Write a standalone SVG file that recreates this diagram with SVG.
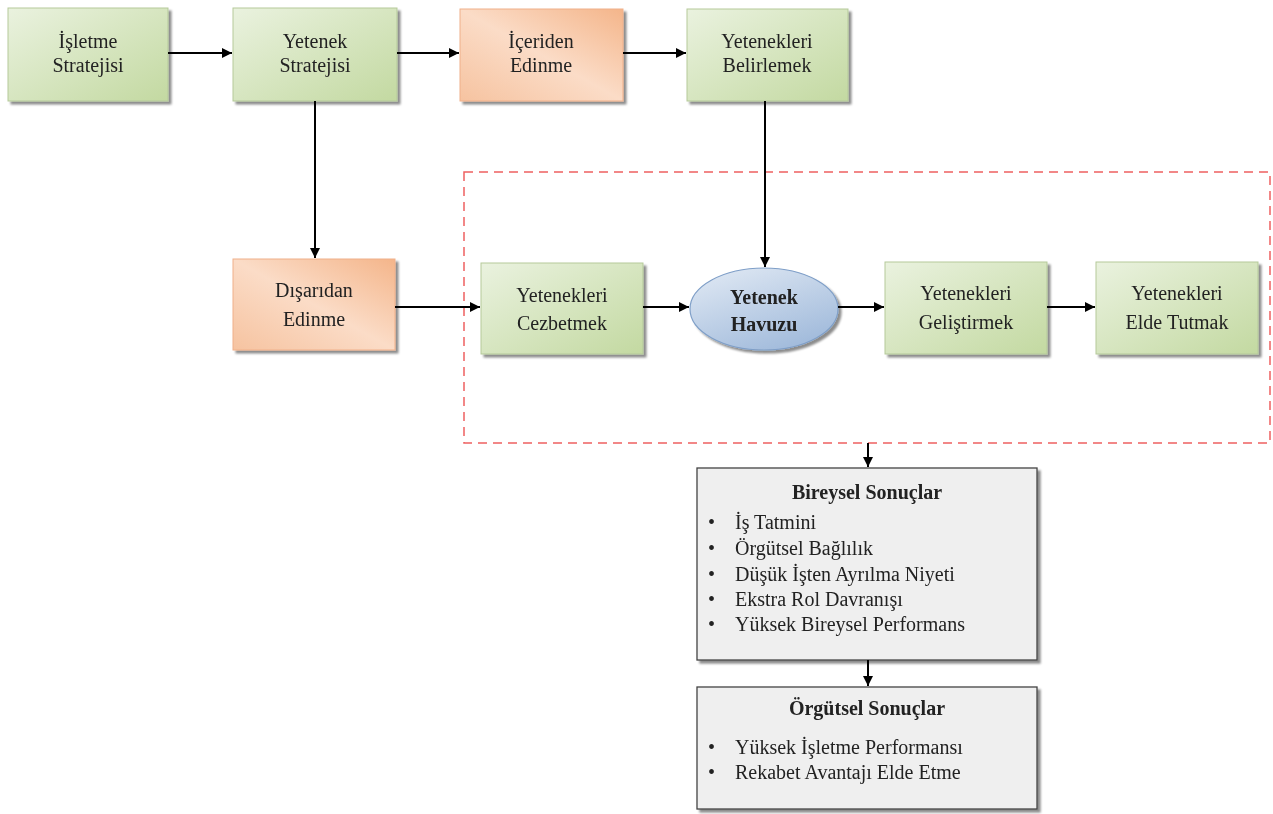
<svg xmlns="http://www.w3.org/2000/svg" width="1273" height="814" viewBox="0 0 1273 814">
<defs>
<linearGradient id="gG" x1="0" y1="0" x2="1" y2="1">
<stop offset="0" stop-color="#eaf2df"/><stop offset="1" stop-color="#c3d9a1"/>
</linearGradient>
<linearGradient id="gO" x1="1" y1="0" x2="0" y2="1">
<stop offset="0" stop-color="#f4b58a"/><stop offset="0.5" stop-color="#fbdcc7"/><stop offset="1" stop-color="#f6c3a0"/>
</linearGradient>
<linearGradient id="gB" x1="0" y1="0" x2="0.6" y2="1">
<stop offset="0" stop-color="#e3ebf5"/><stop offset="1" stop-color="#a3bcdc"/>
</linearGradient>
<marker id="ah" viewBox="0 0 10 10" refX="10" refY="5" markerWidth="6" markerHeight="5" orient="auto" markerUnits="strokeWidth">
<path d="M0,0 L10,5 L0,10 z" fill="#000"/>
</marker>
<filter id="sh" x="-10%" y="-10%" width="130%" height="130%">
<feOffset dx="3" dy="3" in="SourceAlpha" result="o"/>
<feGaussianBlur in="o" stdDeviation="1" result="b"/>
<feColorMatrix in="b" type="matrix" values="0 0 0 0 0  0 0 0 0 0  0 0 0 0 0  0 0 0 0.45 0" result="c"/>
<feMerge><feMergeNode in="c"/><feMergeNode in="SourceGraphic"/></feMerge>
</filter>
</defs>
<style>
.g{fill:url(#gG);stroke:#b5c99a;stroke-width:1}
.o{fill:url(#gO);stroke:#f0b08a;stroke-width:1}
.gr{fill:#efefef;stroke:#444;stroke-width:1.3}
.t{font-family:"Liberation Serif","Times New Roman",serif;font-size:20px;fill:#222;text-anchor:middle}
.b{font-weight:bold}
.l{font-family:"Liberation Serif","Times New Roman",serif;font-size:20px;fill:#222}
.c line,.c path{stroke:#000;stroke-width:2;fill:none;marker-end:url(#ah)}
</style>
<rect x="464" y="172" width="806" height="271" fill="none" stroke="#ee6060" stroke-width="1.5" stroke-dasharray="9,6"/>
<g id="n1" filter="url(#sh)"><rect class="g" x="8" y="8" width="160" height="93"/>
<text class="t" x="88" y="48">İşletme</text><text class="t" x="88" y="72">Stratejisi</text></g>
<g id="n2" filter="url(#sh)"><rect class="g" x="233" y="8" width="164" height="93"/>
<text class="t" x="315" y="48">Yetenek</text><text class="t" x="315" y="72">Stratejisi</text></g>
<g id="n3" filter="url(#sh)"><rect class="o" x="460" y="9" width="163" height="92"/>
<text class="t" x="541" y="48">İçeriden</text><text class="t" x="541" y="72">Edinme</text></g>
<g id="n4" filter="url(#sh)"><rect class="g" x="687" y="9" width="161" height="92"/>
<text class="t" x="767" y="48">Yetenekleri</text><text class="t" x="767" y="72">Belirlemek</text></g>
<g id="n5" filter="url(#sh)"><rect class="o" x="233" y="259" width="162" height="91"/>
<text class="t" x="314" y="297">Dışarıdan</text><text class="t" x="314" y="326">Edinme</text></g>
<g id="n6" filter="url(#sh)"><rect class="g" x="481" y="263" width="162" height="91"/>
<text class="t" x="562" y="302">Yetenekleri</text><text class="t" x="562" y="330">Cezbetmek</text></g>
<g id="n7" filter="url(#sh)"><ellipse cx="764" cy="309" rx="74" ry="41" fill="url(#gB)" stroke="#7f9fc8" stroke-width="1.2"/>
<text class="t b" x="764" y="304">Yetenek</text><text class="t b" x="764" y="331">Havuzu</text></g>
<g id="n8" filter="url(#sh)"><rect class="g" x="885" y="262" width="162" height="92"/>
<text class="t" x="966" y="300">Yetenekleri</text><text class="t" x="966" y="329">Geliştirmek</text></g>
<g id="n9" filter="url(#sh)"><rect class="g" x="1096" y="262" width="162" height="92"/>
<text class="t" x="1177" y="300">Yetenekleri</text><text class="t" x="1177" y="329">Elde Tutmak</text></g>
<g id="n10" filter="url(#sh)"><rect class="gr" x="697" y="468" width="340" height="192"/>
<text class="t b" x="867" y="499">Bireysel Sonuçlar</text>
<g class="l"><text x="708" y="529">•</text><text x="735" y="529">İş Tatmini</text>
<text x="708" y="555">•</text><text x="735" y="555">Örgütsel Bağlılık</text>
<text x="708" y="581">•</text><text x="735" y="581">Düşük İşten Ayrılma Niyeti</text>
<text x="708" y="606">•</text><text x="735" y="606">Ekstra Rol Davranışı</text>
<text x="708" y="631">•</text><text x="735" y="631">Yüksek Bireysel Performans</text></g></g>
<g id="n11" filter="url(#sh)"><rect class="gr" x="697" y="687" width="340" height="122"/>
<text class="t b" x="867" y="715">Örgütsel Sonuçlar</text>
<g class="l"><text x="708" y="754">•</text><text x="735" y="754">Yüksek İşletme Performansı</text>
<text x="708" y="779">•</text><text x="735" y="779">Rekabet Avantajı Elde Etme</text></g></g>
<g id="connectors" class="c">
<line x1="168" y1="53" x2="232" y2="53"/>
<line x1="397" y1="53" x2="459" y2="53"/>
<line x1="623" y1="53" x2="686" y2="53"/>
<line x1="315" y1="101" x2="315" y2="258"/>
<line x1="765" y1="101" x2="765" y2="267"/>
<line x1="395" y1="307" x2="480" y2="307"/>
<line x1="643" y1="307" x2="689" y2="307"/>
<line x1="838" y1="307" x2="884" y2="307"/>
<line x1="1047" y1="307" x2="1095" y2="307"/>
<line x1="868" y1="443" x2="868" y2="467"/>
<line x1="868" y1="660" x2="868" y2="686"/>
</g>
</svg>
